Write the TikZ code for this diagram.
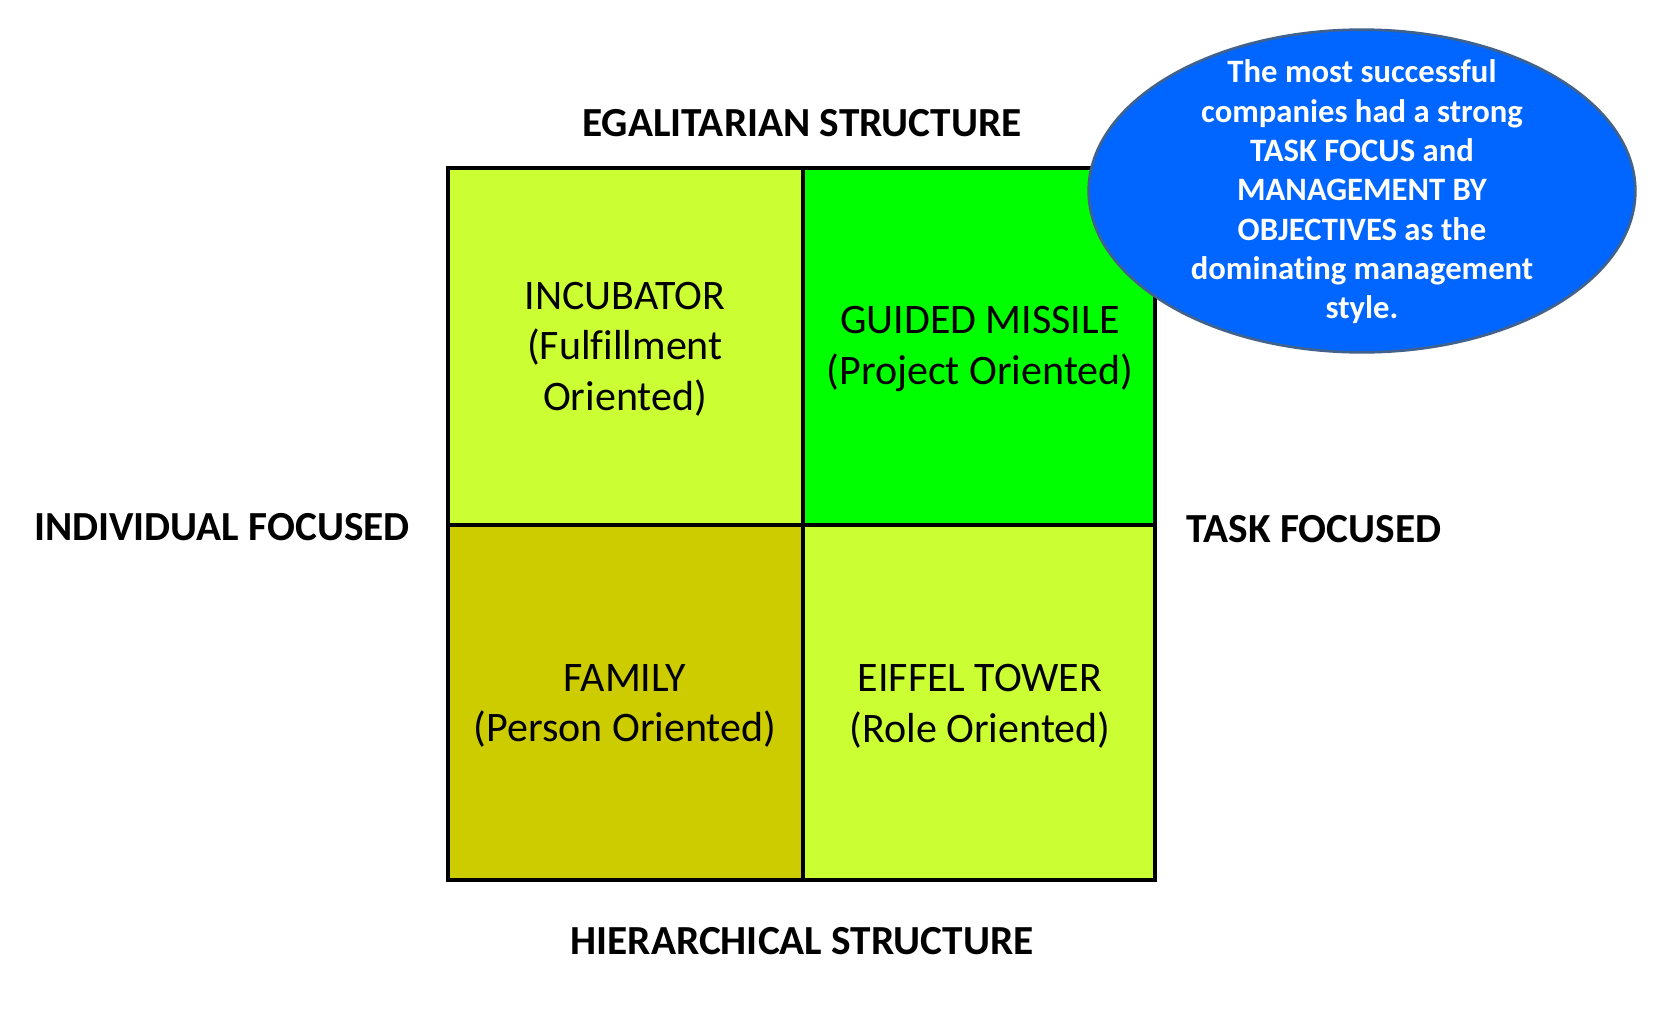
\documentclass[tikz,border=0pt]{standalone}
\usepackage{fontspec}
\setmainfont[Ligatures=NoCommon]{Carlito}
\usetikzlibrary{shapes.geometric}
\definecolor{lime}{HTML}{CCFF33}
\definecolor{grn}{HTML}{00FF00}
\definecolor{olive}{HTML}{CCCC00}
\definecolor{blu}{HTML}{0066FF}
\definecolor{bord}{HTML}{41628C}
\begin{document}
\begin{tikzpicture}[x=0.75pt,y=-0.75pt,
 cell/.style={draw=black,line width=3.6pt},
 ctext/.style={align=center,font=\fontsize{31.5}{38}\selectfont},
 lab/.style={font=\fontsize{31}{36}\selectfont\bfseries}]
\useasboundingbox (0,0) rectangle (1673,1017);
\fill[white] (0,0) rectangle (1673,1017);
\path[cell,fill=lime] (448,168) rectangle (803,525);
\path[cell,fill=grn] (803,168) rectangle (1155,525);
\path[cell,fill=olive] (448,525) rectangle (803,880);
\path[cell,fill=lime] (803,525) rectangle (1155,880);
\draw[cell] (448,168) rectangle (1155,880);
\node[ctext] (inc) at (625,349) {INCUBATOR\\(Fulfillment\\Oriented)};
\node[ctext] (gm) at (980,349) {GUIDED MISSILE\\(Project Oriented)};
\node[ctext] (fam) at (625,706) {FAMILY\\(Person Oriented)};
\node[ctext] (eif) at (980,706) {EIFFEL TOWER\\(Role Oriented)};
\node[lab] (egal) at (802,123) {EGALITARIAN STRUCTURE};
\node[lab] (hier) at (802,941) {HIERARCHICAL STRUCTURE};
\node[lab] (ind) at (222,527) {INDIVIDUAL FOCUSED};
\node[lab] (task) at (1314,529) {TASK FOCUSED};
\node[ellipse,draw=bord,line width=2pt,fill=blu,minimum width=410pt,minimum height=242pt,inner sep=0pt] (ell) at (1362,191) {};
\node[text=white,align=center,font=\fontsize{24.5}{29.5}\selectfont\bfseries] (etext) at (1362,192) {The most successful\\companies had a strong\\TASK FOCUS and\\MANAGEMENT BY\\OBJECTIVES as the\\dominating management\\style.};
\end{tikzpicture}
\end{document}
